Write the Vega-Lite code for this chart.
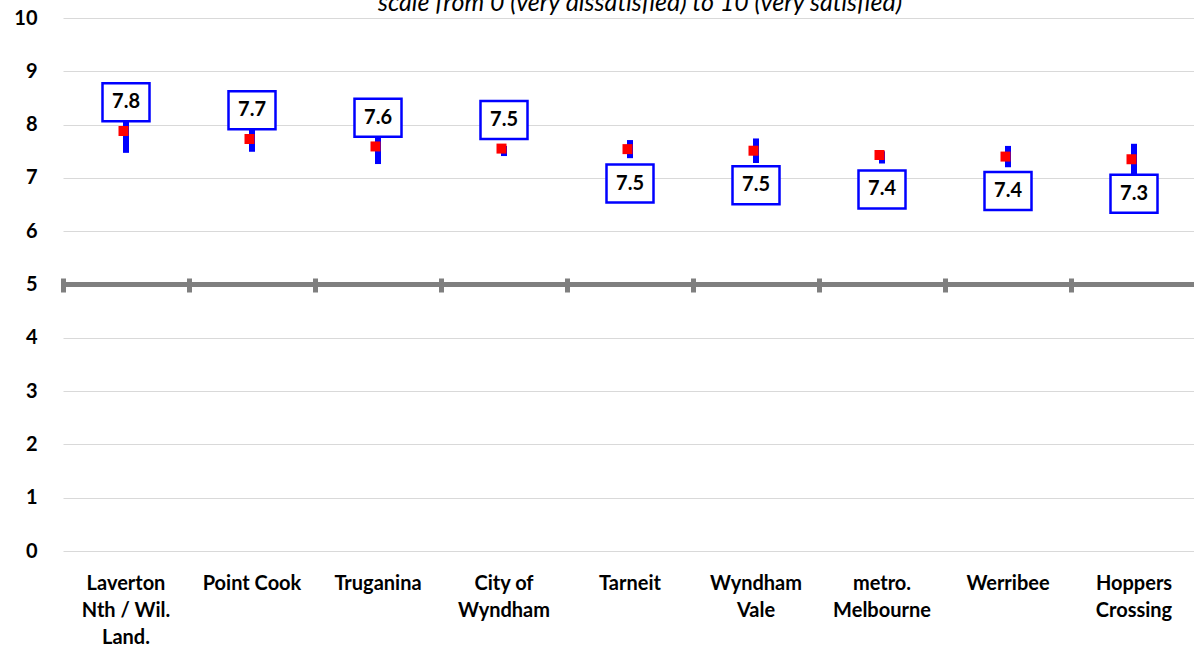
{
  "$schema": "https://vega.github.io/schema/vega-lite/v6.json",
  "width": 1134,
  "height": 533,
  "autosize": "none",
  "padding": {"left": 63, "top": 18, "right": 0, "bottom": 101},
  "background": "white",
  "config": {
    "view": {"stroke": null},
    "axis": {"labelFont": "Lato", "labelFontWeight": "bold", "labelColor": "#000000", "labelFontSize": 20}
  },
  "data": {
    "values": [
      {"label": "Laverton|Nth / Wil.|Land.", "mean": 7.88, "low": 7.47, "high": 8.29, "score": 7.8},
      {"label": "Point Cook", "mean": 7.73, "low": 7.49, "high": 7.97, "score": 7.7},
      {"label": "Truganina", "mean": 7.59, "low": 7.26, "high": 7.92, "score": 7.6},
      {"label": "City of|Wyndham", "mean": 7.55, "low": 7.41, "high": 7.6, "score": 7.5},
      {"label": "Tarneit", "mean": 7.54, "low": 7.37, "high": 7.71, "score": 7.5},
      {"label": "Wyndham|Vale", "mean": 7.51, "low": 7.28, "high": 7.74, "score": 7.5},
      {"label": "metro.|Melbourne", "mean": 7.43, "low": 7.27, "high": 7.5, "score": 7.4},
      {"label": "Werribee", "mean": 7.4, "low": 7.2, "high": 7.6, "score": 7.4},
      {"label": "Hoppers|Crossing", "mean": 7.35, "low": 7.06, "high": 7.64, "score": 7.3}
    ]
  },
  "resolve": {"axis": {"x": "independent"}},
  "layer": [
    {
      "mark": {"type": "rule", "color": "#7f7f7f", "strokeWidth": 5},
      "encoding": {
        "y": {"datum": 5, "type": "quantitative", "scale": {"domain": [0, 10]},
          "axis": {"values": [0,1,2,3,4,5,6,7,8,9,10], "grid": true, "gridColor": "#d9d9d9", "gridWidth": 1, "domain": false, "ticks": false, "labelPadding": 26, "title": null}}
      }
    },
    {
      "data": {"values": [{"title": "scale from 0 (very dissatisfied) to 10 (very satisfied)"}]},
      "mark": {"type": "text", "font": "Lato", "fontSize": 25, "fontStyle": "italic", "color": "#000000", "baseline": "alphabetic", "align": "center", "dy": -7, "dx": 10, "clip": false},
      "encoding": {
        "y": {"datum": 10, "type": "quantitative"},
        "text": {"field": "title", "type": "nominal"}
      }
    },
    {
      "mark": {"type": "rule", "color": "#0000ff", "strokeWidth": 6},
      "encoding": {
        "x": {"field": "label", "type": "nominal", "sort": null,
          "scale": {"paddingInner": 0, "paddingOuter": 0},
          "axis": {"orient": "top", "offset": -274, "domain": false, "labels": false, "ticks": true, "tickSize": 14, "tickWidth": 5, "tickColor": "#7f7f7f", "bandPosition": 0, "grid": false, "title": null}},
        "y": {"field": "low", "type": "quantitative"},
        "y2": {"field": "high"}
      }
    },
    {
      "mark": {"type": "point", "filled": true, "opacity": 1, "color": "#ff0000", "size": 100, "shape": "M-1.5,-1H0.5V1H-1.5Z"},
      "encoding": {
        "x": {"field": "label", "type": "nominal", "sort": null,
          "axis": {"orient": "bottom", "domain": false, "ticks": false, "labelAngle": 0, "labelPadding": 22, "labelLineHeight": 27, "labelBaseline": "top", "labelExpr": "split(datum.value, '|')", "title": null, "grid": false}},
        "y": {"field": "mean", "type": "quantitative"}
      }
    },
    {
      "transform": [{"filter": "indexof(['Laverton|Nth / Wil.|Land.', 'Point Cook', 'Truganina', 'City of|Wyndham'], datum.label) >= 0"}],
      "mark": {"type": "point", "filled": false, "fill": "white", "fillOpacity": 1, "opacity": 1, "stroke": "#0000ff", "strokeWidth": 2.5, "size": 1444, "shape": "M-1.237,-2.51H1.237V-0.51H-1.237Z"},
      "encoding": {
        "x": {"field": "label", "type": "nominal", "sort": null, "axis": null},
        "y": {"field": "mean", "type": "quantitative"}
      }
    },
    {
      "transform": [{"filter": "indexof(['Laverton|Nth / Wil.|Land.', 'Point Cook', 'Truganina', 'City of|Wyndham'], datum.label) < 0"}],
      "mark": {"type": "point", "filled": false, "fill": "white", "fillOpacity": 1, "opacity": 1, "stroke": "#0000ff", "strokeWidth": 2.5, "size": 1444, "shape": "M-1.237,0.816H1.237V2.816H-1.237Z"},
      "encoding": {
        "x": {"field": "label", "type": "nominal", "sort": null, "axis": null},
        "y": {"field": "mean", "type": "quantitative"}
      }
    },
    {
      "transform": [{"filter": "indexof(['Laverton|Nth / Wil.|Land.', 'Point Cook', 'Truganina', 'City of|Wyndham'], datum.label) >= 0"}],
      "mark": {"type": "text", "font": "Lato", "fontWeight": "bold", "fontSize": 20, "color": "#000000", "baseline": "middle", "dy": -28.7},
      "encoding": {
        "x": {"field": "label", "type": "nominal", "sort": null, "axis": null},
        "y": {"field": "mean", "type": "quantitative"},
        "text": {"field": "score", "type": "quantitative", "format": ".1f"}
      }
    },
    {
      "transform": [{"filter": "indexof(['Laverton|Nth / Wil.|Land.', 'Point Cook', 'Truganina', 'City of|Wyndham'], datum.label) < 0"}],
      "mark": {"type": "text", "font": "Lato", "fontWeight": "bold", "fontSize": 20, "color": "#000000", "baseline": "middle", "dy": 34.5},
      "encoding": {
        "x": {"field": "label", "type": "nominal", "sort": null, "axis": null},
        "y": {"field": "mean", "type": "quantitative"},
        "text": {"field": "score", "type": "quantitative", "format": ".1f"}
      }
    }
  ]
}
